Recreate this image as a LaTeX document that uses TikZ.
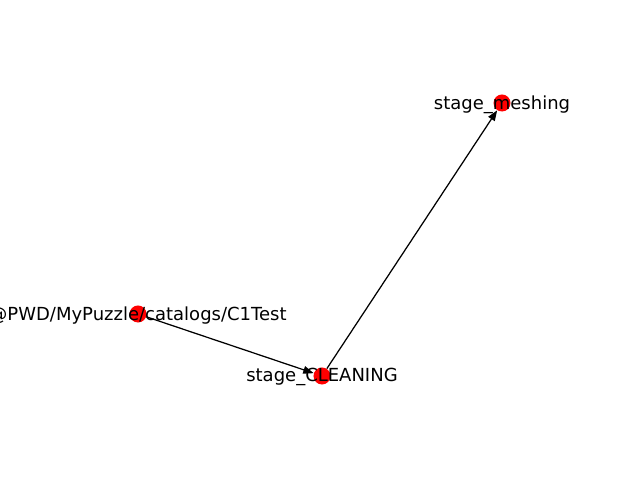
\documentclass[tikz,border=0pt]{standalone}
\usepackage{fontspec}
\setmainfont{DejaVu Sans}
\usetikzlibrary{arrows.meta}

\tikzset{
    dot/.style={shape=circle, fill=red, inner sep=0pt, minimum size=0.17in},
    lbl/.style={font=\fontsize{13}{15}\selectfont, inner sep=0pt, anchor=center, yshift=-1pt},
    link/.style={-{Triangle[length=7.5pt, width=5.5pt]}, line width=0.9pt, black}
}

\begin{document}
\begin{tikzpicture}[x=0.01in, y=-0.01in]
            \useasboundingbox (0,0) rectangle (640,480);

            \node (catalog) [dot] at (138,314) {};
            \node (cleaning) [dot] at (322,376) {};
            \node (meshing) [dot] at (502,103) {};

            \draw [link] (catalog) -- (cleaning);
            \draw [link] (cleaning) -- (meshing);

            \node (catalogtext) [lbl] at (catalog.center) {@PWD/MyPuzzle/catalogs/C1Test};
            \node (cleaningtext) [lbl] at (cleaning.center) {stage\_CLEANING};
            \node (meshingtext) [lbl] at (meshing.center) {stage\_meshing};
\end{tikzpicture}
\end{document}
